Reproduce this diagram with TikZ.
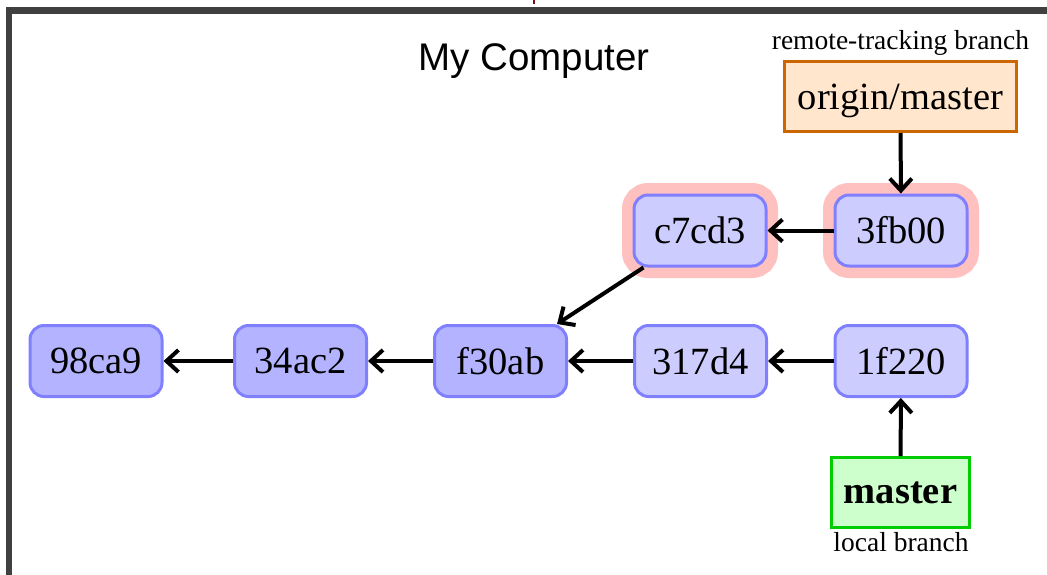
\documentclass[tikz,border=0pt]{standalone}
\usepackage{fontspec}
\setmainfont{Liberation Serif}
\newfontfamily\labelsans{Liberation Sans}
\usetikzlibrary{arrows.meta}
\definecolor{commitdark}{HTML}{B3B3FF}
\definecolor{commitlight}{HTML}{CCCCFF}
\definecolor{commitborder}{HTML}{8080FF}
\definecolor{halo}{HTML}{FFC0C0}
\definecolor{remotefill}{HTML}{FFE6CC}
\definecolor{remoteborder}{HTML}{CC6600}
\definecolor{localfill}{HTML}{CCFFCC}
\definecolor{localborder}{HTML}{00CC00}
\definecolor{framegray}{HTML}{404040}
\definecolor{markred}{HTML}{701010}
\tikzset{
  commit/.style={draw=commitborder, line width=3pt, rounded corners=14pt,
    minimum width=132pt, minimum height=71pt, inner sep=0pt,
    font=\fontsize{38.5}{38.5}\selectfont},
  olderc/.style={commit, fill=commitdark},
  newerc/.style={commit, fill=commitlight},
  haloed/.style={preaction={draw=halo, line width=24pt}},
  remotebr/.style={draw=remoteborder, fill=remotefill, line width=3pt,
    minimum width=232pt, minimum height=70pt, inner sep=0pt, text depth=0pt,
    font=\fontsize{38.5}{38.5}\selectfont},
  localbr/.style={draw=localborder, fill=localfill, line width=3pt,
    minimum width=138pt, minimum height=70pt, inner sep=0pt,
    font=\fontsize{38.5}{38.5}\selectfont\bfseries},
  caption/.style={inner sep=0pt, font=\fontsize{27.5}{27.5}\selectfont},
  parent/.style={-{Straight Barb[length=12pt,width=22pt,line width=4pt]}, line width=4pt, black}
}
\begin{document}
\begin{tikzpicture}[x=1pt,y=-1pt]
\useasboundingbox (0,0) rectangle (1047,575);
\begin{scope}
\clip (0,0) rectangle (1047,575);
\draw[framegray, line width=6.5pt] (9,600) -- (9,10.5) -- (1070,10.5);
\end{scope}
\draw[markred, line width=1.5pt] (534,0) -- (534,4);
\node[font=\labelsans\fontsize{38.5}{38.5}\selectfont, inner sep=0pt] (title) at (534,61) {My Computer};
% commits
\node[olderc] (c98) at (96,361) {98ca9};
\node[olderc] (c34) at (300.5,361) {34ac2};
\node[olderc] (cf3) at (500.5,361) {f30ab};
\node[newerc] (c31) at (700.5,361) {317d4};
\node[newerc] (c1f) at (901,361) {1f220};
\node[newerc, haloed] (cc7) at (700,230.5) {c7cd3};
\node[newerc, haloed] (c3f) at (901,230.5) {3fb00};
% branches
\node[remotebr] (origin) at (900.5,96.5) {origin/master};
\node[caption] (remotecap) at (900.5,43) {remote-tracking branch};
\node[localbr] (master) at (900.5,492.5) {master};
\node[caption] (localcap) at (901,542) {local branch};
% connectors
\draw[parent] (c3f) -- (cc7);
\draw[parent] (cc7) -- (cf3);
\draw[parent] (c1f) -- (c31);
\draw[parent] (c31) -- (cf3);
\draw[parent] (cf3) -- (c34);
\draw[parent] (c34) -- (c98);
\draw[parent] (origin) -- (c3f);
\draw[parent] (master) -- (c1f);
\end{tikzpicture}
\end{document}
